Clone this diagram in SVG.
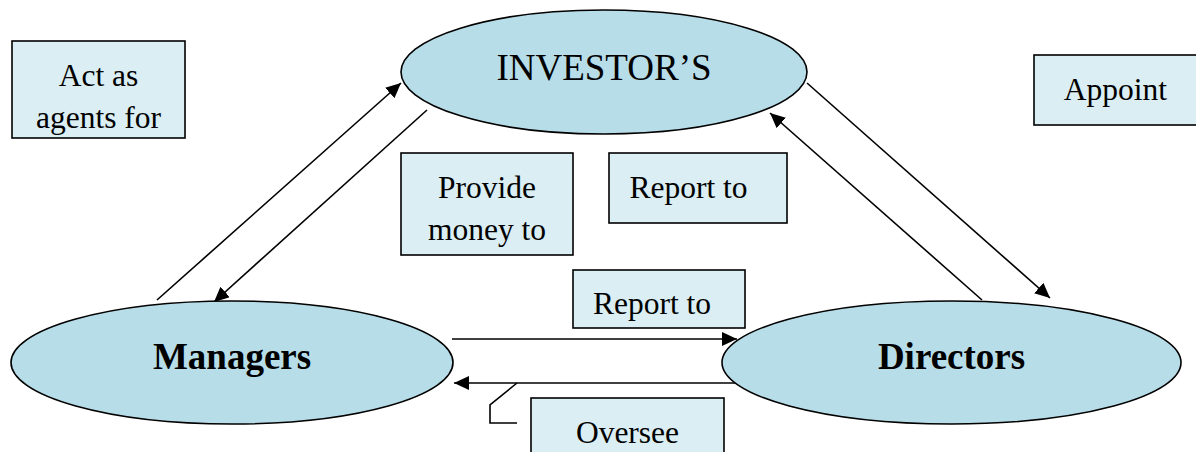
<svg xmlns="http://www.w3.org/2000/svg" width="1196" height="452" viewBox="0 0 1196 452">
  <style>
    .ell { fill: #b7dde8; stroke: #000; stroke-width: 1.6; }
    .box { fill: #daeef3; stroke: #000; stroke-width: 1.6; }
    .lbl { font-family: "Liberation Serif", "Times New Roman", serif; font-size: 31.5px; fill: #000; text-anchor: middle; }
    .big { font-family: "Liberation Serif", "Times New Roman", serif; font-size: 37px; fill: #000; text-anchor: middle; }
    .bold { font-weight: bold; }
    .wire { fill: none; stroke: #000; stroke-width: 1.6; }
  </style>
  <defs>
    <marker id="head" markerUnits="userSpaceOnUse" markerWidth="16" markerHeight="14" refX="15" refY="7" orient="auto">
      <path d="M0,0 L15,7 L0,14 z" fill="#000"/>
    </marker>
  </defs>
  <rect width="1196" height="452" fill="#fff"/>

  <!-- connectors -->
  <g id="connectors">
    <line class="wire" x1="157" y1="300" x2="401" y2="83" marker-end="url(#head)"/>
    <line class="wire" x1="427" y1="110" x2="214" y2="302" marker-end="url(#head)"/>
    <line class="wire" x1="807" y1="83" x2="1050" y2="298" marker-end="url(#head)"/>
    <line class="wire" x1="982" y1="300" x2="770" y2="113" marker-end="url(#head)"/>
    <line class="wire" x1="452" y1="339" x2="737" y2="339" marker-end="url(#head)"/>
    <line class="wire" x1="738" y1="383" x2="454" y2="383" marker-end="url(#head)"/>
    <!-- callout pointer of the Oversee label -->
    <polyline class="wire" points="517,383 490,405 490,423 517,423"/>
  </g>

  <!-- main parties -->
  <g id="investors">
    <ellipse class="ell" cx="604" cy="72" rx="203" ry="62"/>
    <text class="big" x="604" y="80">INVESTOR’S</text>
  </g>
  <g id="managers">
    <ellipse class="ell" cx="232" cy="362.5" rx="221" ry="61.5"/>
    <text class="big bold" x="232" y="369">Managers</text>
  </g>
  <g id="directors">
    <ellipse class="ell" cx="951.5" cy="362.5" rx="229.5" ry="61.5"/>
    <text class="big bold" x="951.5" y="369">Directors</text>
  </g>

  <!-- relationship labels -->
  <g id="act-as-agents">
    <rect class="box" x="12" y="41" width="173" height="97"/>
    <text class="lbl" x="98.5" y="86">Act as</text>
    <text class="lbl" x="98.5" y="128">agents for</text>
  </g>
  <g id="appoint">
    <rect class="box" x="1034" y="55" width="168" height="70"/>
    <text class="lbl" x="1115.5" y="100">Appoint</text>
  </g>
  <g id="provide-money">
    <rect class="box" x="401" y="153" width="172" height="102"/>
    <text class="lbl" x="487" y="198">Provide</text>
    <text class="lbl" x="487" y="240">money to</text>
  </g>
  <g id="report-to-investors">
    <rect class="box" x="609" y="153" width="178" height="70"/>
    <text class="lbl" x="688.5" y="198">Report to</text>
  </g>
  <g id="report-to-directors">
    <rect class="box" x="573" y="270" width="172" height="58"/>
    <text class="lbl" x="652" y="314">Report to</text>
  </g>
  <g id="oversee">
    <rect class="box" x="531" y="398" width="193" height="70"/>
    <text class="lbl" x="627.5" y="443">Oversee</text>
  </g>
</svg>
